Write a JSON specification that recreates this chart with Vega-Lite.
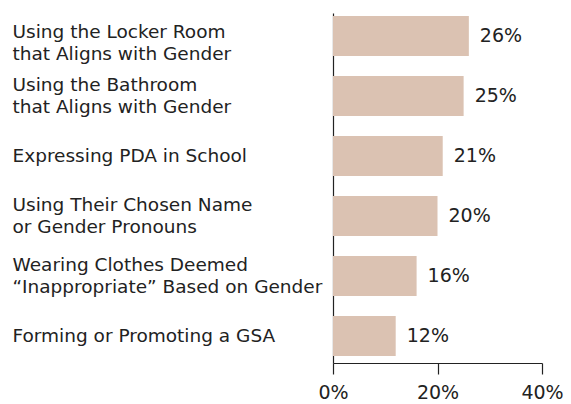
{
  "$schema": "https://vega.github.io/schema/vega-lite/v6.json",
  "autosize": "none",
  "width": 209,
  "height": 350,
  "padding": {"left": 333, "top": 13, "right": 29, "bottom": 41},
  "background": "white",
  "config": {"view": {"stroke": null}, "font": "DejaVu Sans"},
  "data": {"values": [
    {"item": "Using the Locker Room|that Aligns with Gender", "pct": 0.26},
    {"item": "Using the Bathroom|that Aligns with Gender", "pct": 0.25},
    {"item": "Expressing PDA in School", "pct": 0.21},
    {"item": "Using Their Chosen Name|or Gender Pronouns", "pct": 0.20},
    {"item": "Wearing Clothes Deemed|“Inappropriate” Based on Gender", "pct": 0.16},
    {"item": "Forming or Promoting a GSA", "pct": 0.12}
  ]},
  "encoding": {
    "y": {
      "field": "item", "type": "nominal", "sort": null,
      "scale": {"paddingInner": 0.3333, "paddingOuter": 0.0833, "align": 0.3},
      "axis": {
        "title": null, "ticks": false, "labelAlign": "left", "labelPadding": 321,
        "labelLimit": 330, "labelFontSize": 18.5, "labelColor": "#222",
        "labelLineHeight": 22, "labelExpr": "split(datum.label, '|')",
        "labelOffset": {"condition": [
          {"test": "indexof(datum.value, 'Locker') >= 0", "value": -4},
          {"test": "indexof(datum.value, '|') > 0", "value": -11}
        ], "value": 0},
        "domainColor": "#222", "domainWidth": 1.2
      }
    },
    "x": {
      "field": "pct", "type": "quantitative",
      "scale": {"domain": [0, 0.4]},
      "axis": {
        "title": null, "values": [0, 0.2, 0.4], "grid": false, "format": ".0%",
        "labelFontSize": 19, "labelColor": "#222",
        "tickSize": 11, "tickColor": "#222", "tickWidth": 1.2,
        "domainColor": "#222", "domainWidth": 1.2, "labelPadding": 9, "labelFlush": false
      }
    }
  },
  "layer": [
    {"mark": {"type": "bar", "color": "#dbc2b2"}},
    {"mark": {"type": "text", "align": "left", "baseline": "middle", "dx": 11, "fontSize": 19, "color": "#222"},
     "encoding": {"text": {"field": "pct", "type": "quantitative", "format": ".0%"}}}
  ]
}
